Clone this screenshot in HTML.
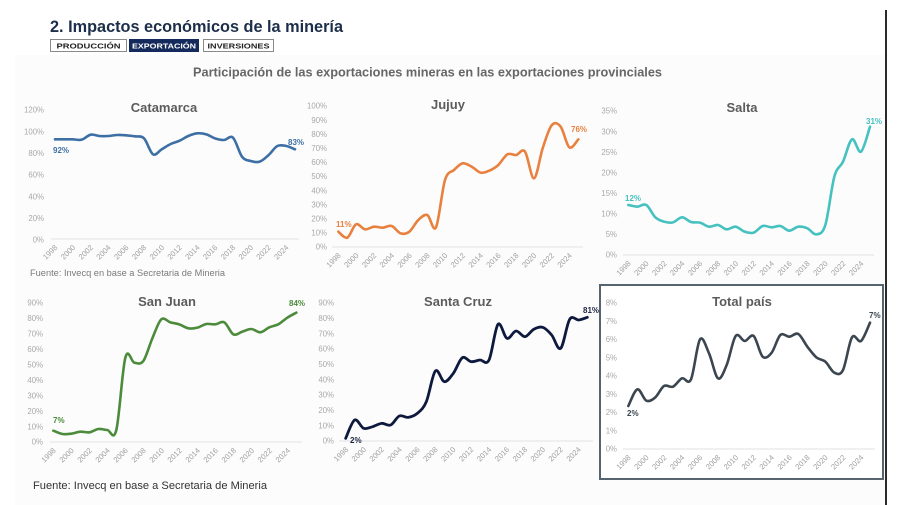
<!DOCTYPE html>
<html><head><meta charset="utf-8"><style>
html,body{margin:0;padding:0;background:#fff;}
svg{display:block;font-family:"Liberation Sans",sans-serif;}
.yl{font-size:7.8px;fill:#a8a8a8;text-anchor:end;}
.xl{font-size:7.6px;fill:#a0a0a0;text-anchor:end;}
.ct{font-size:13px;font-weight:bold;fill:#5c5c5c;text-anchor:middle;}
.dl{font-size:8px;font-weight:bold;}
.ax{stroke:#e2e2e2;stroke-width:1;}
</style></head><body>
<svg width="900" height="505" viewBox="0 0 900 505" xmlns="http://www.w3.org/2000/svg">
<rect x="0" y="0" width="900" height="505" fill="#fff"/>
<rect x="15" y="55" width="871" height="450" fill="#fcfcfc"/>
<line x1="886" y1="10" x2="886" y2="505" stroke="#2a2a2a" stroke-width="2"/>

<!-- Header -->
<text x="50" y="32" font-size="16.5" font-weight="bold" fill="#1c2e4a" textLength="293" lengthAdjust="spacingAndGlyphs">2. Impactos económicos de la minería</text>
<rect x="50.5" y="39.5" width="76" height="12" fill="#fff" stroke="#8a8a8a" stroke-width="1"/>
<text x="88.5" y="48.5" font-size="7.5" font-weight="bold" fill="#222" text-anchor="middle" textLength="64" lengthAdjust="spacingAndGlyphs">PRODUCCIÓN</text>
<rect x="129" y="39" width="70" height="13" fill="#142a5c"/>
<text x="164" y="48.5" font-size="7.5" font-weight="bold" fill="#fff" text-anchor="middle" textLength="64" lengthAdjust="spacingAndGlyphs">EXPORTACIÓN</text>
<rect x="203.5" y="39.5" width="70" height="12" fill="#fff" stroke="#8a8a8a" stroke-width="1"/>
<text x="238.5" y="48.5" font-size="7.5" font-weight="bold" fill="#222" text-anchor="middle" textLength="62" lengthAdjust="spacingAndGlyphs">INVERSIONES</text>
<text x="193" y="76.5" font-size="12.5" font-weight="bold" fill="#666" textLength="469" lengthAdjust="spacingAndGlyphs">Participación de las exportaciones mineras en las exportaciones provinciales</text>

<!-- Total pais box -->
<rect x="600" y="285" width="283" height="194" fill="#fff" stroke="#566470" stroke-width="2"/>

<!-- ===== Catamarca ===== -->
<text class="ct" x="164" y="112">Catamarca</text>
<line class="ax" x1="51" y1="239" x2="299" y2="239"/>
<g class="yl">
<text x="44" y="112.7">120%</text><text x="44" y="134.4">100%</text><text x="44" y="156">80%</text><text x="44" y="177.7">60%</text><text x="44" y="199.4">40%</text><text x="44" y="221">20%</text><text x="44" y="242.7">0%</text>
</g>
<g class="xl">
<text transform="translate(58,248) rotate(-45)">1998</text><text transform="translate(75.8,248) rotate(-45)">2000</text><text transform="translate(93.6,248) rotate(-45)">2002</text><text transform="translate(111.3,248) rotate(-45)">2004</text><text transform="translate(129.1,248) rotate(-45)">2006</text><text transform="translate(146.9,248) rotate(-45)">2008</text><text transform="translate(164.7,248) rotate(-45)">2010</text><text transform="translate(182.4,248) rotate(-45)">2012</text><text transform="translate(200.2,248) rotate(-45)">2014</text><text transform="translate(218,248) rotate(-45)">2016</text><text transform="translate(235.8,248) rotate(-45)">2018</text><text transform="translate(253.6,248) rotate(-45)">2020</text><text transform="translate(271.3,248) rotate(-45)">2022</text><text transform="translate(289.1,248) rotate(-45)">2024</text>
</g>
<g transform="translate(20,90) scale(0.333333)">
<polyline class="s" fill="none" stroke="#3d6fa5" stroke-width="2.6" stroke-linejoin="round" stroke-linecap="round" vector-effect="non-scaling-stroke" points="105,148 132,148 158,148 185,149 212,134 238,138 265,138 292,135 318,136 345,139 372,145 399,193 425,178 452,162 479,152 505,138 532,130 559,133 585,145 612,150 639,143 666,200 692,213 719,215 746,195 772,168 799,168 825,178"/>
</g>
<text class="dl" x="53" y="153" fill="#3d6fa5">92%</text>
<text class="dl" x="288" y="145" fill="#3d6fa5">83%</text>
<text x="30" y="276" font-size="9" fill="#7a7a7a" textLength="195" lengthAdjust="spacingAndGlyphs">Fuente: Invecq en base a Secretaria de Mineria</text>

<!-- ===== Jujuy ===== -->
<text class="ct" x="448" y="109">Jujuy</text>
<line class="ax" x1="332" y1="247" x2="583" y2="247"/>
<g class="yl">
<text x="327" y="108.7">100%</text><text x="327" y="122.8">90%</text><text x="327" y="136.9">80%</text><text x="327" y="151">70%</text><text x="327" y="165.1">60%</text><text x="327" y="179.2">50%</text><text x="327" y="193.3">40%</text><text x="327" y="207.4">30%</text><text x="327" y="221.5">20%</text><text x="327" y="235.6">10%</text><text x="327" y="249.7">0%</text>
</g>
<g class="xl">
<text transform="translate(341.3,256) rotate(-45)">1998</text><text transform="translate(359.1,256) rotate(-45)">2000</text><text transform="translate(376.9,256) rotate(-45)">2002</text><text transform="translate(394.6,256) rotate(-45)">2004</text><text transform="translate(412.4,256) rotate(-45)">2006</text><text transform="translate(430.2,256) rotate(-45)">2008</text><text transform="translate(448,256) rotate(-45)">2010</text><text transform="translate(465.7,256) rotate(-45)">2012</text><text transform="translate(483.5,256) rotate(-45)">2014</text><text transform="translate(501.3,256) rotate(-45)">2016</text><text transform="translate(519.1,256) rotate(-45)">2018</text><text transform="translate(536.9,256) rotate(-45)">2020</text><text transform="translate(554.6,256) rotate(-45)">2022</text><text transform="translate(572.4,256) rotate(-45)">2024</text>
</g>
<g transform="translate(300,90) scale(0.333333)">
<polyline class="s" fill="none" stroke="#e8813f" stroke-width="2.6" stroke-linejoin="round" stroke-linecap="round" vector-effect="non-scaling-stroke" points="115,425 142,443 168,403 195,418 222,410 248,413 275,408 302,430 328,425 355,390 382,375 408,412 435,270 462,240 488,220 515,230 542,248 568,242 595,225 622,193 648,195 675,185 702,265 728,175 755,106 782,110 808,172 835,148"/>
</g>
<text class="dl" x="336" y="227" fill="#e8813f">11%</text>
<text class="dl" x="571" y="132" fill="#e8813f">76%</text>

<!-- ===== Salta ===== -->
<text class="ct" x="742" y="112">Salta</text>
<line class="ax" x1="623" y1="255" x2="874" y2="255"/>
<g class="yl">
<text x="617" y="113.7">35%</text><text x="617" y="134.3">30%</text><text x="617" y="154.8">25%</text><text x="617" y="175.4">20%</text><text x="617" y="196">15%</text><text x="617" y="216.6">10%</text><text x="617" y="237.1">5%</text><text x="617" y="257.7">0%</text>
</g>
<g class="xl">
<text transform="translate(631.3,264) rotate(-45)">1998</text><text transform="translate(649.2,264) rotate(-45)">2000</text><text transform="translate(667.1,264) rotate(-45)">2002</text><text transform="translate(685,264) rotate(-45)">2004</text><text transform="translate(702.9,264) rotate(-45)">2006</text><text transform="translate(720.8,264) rotate(-45)">2008</text><text transform="translate(738.7,264) rotate(-45)">2010</text><text transform="translate(756.6,264) rotate(-45)">2012</text><text transform="translate(774.5,264) rotate(-45)">2014</text><text transform="translate(792.4,264) rotate(-45)">2016</text><text transform="translate(810.3,264) rotate(-45)">2018</text><text transform="translate(828.2,264) rotate(-45)">2020</text><text transform="translate(846.1,264) rotate(-45)">2022</text><text transform="translate(864,264) rotate(-45)">2024</text>
</g>
<g transform="translate(590,90) scale(0.333333)">
<polyline class="s" fill="none" stroke="#45c1c0" stroke-width="2.6" stroke-linejoin="round" stroke-linecap="round" vector-effect="non-scaling-stroke" points="115,345 142,350 169,345 196,382 222,395 249,397 276,382 303,396 330,398 357,410 384,405 410,418 437,410 464,425 491,428 518,408 545,412 571,408 598,422 625,410 652,415 679,433 706,405 733,260 759,215 786,148 813,185 840,110"/>
</g>
<text class="dl" x="625" y="201" fill="#45c1c0">12%</text>
<text class="dl" x="866" y="124" fill="#45c1c0">31%</text>

<!-- ===== San Juan ===== -->
<text class="ct" x="167" y="306">San Juan</text>
<line class="ax" x1="50" y1="442" x2="302" y2="442"/>
<g class="yl">
<text x="43" y="305.7">90%</text><text x="43" y="321.1">80%</text><text x="43" y="336.6">70%</text><text x="43" y="352">60%</text><text x="43" y="367.5">50%</text><text x="43" y="382.9">40%</text><text x="43" y="398.4">30%</text><text x="43" y="413.8">20%</text><text x="43" y="429.3">10%</text><text x="43" y="444.7">0%</text>
</g>
<g class="xl">
<text transform="translate(56.3,451) rotate(-45)">1998</text><text transform="translate(74.4,451) rotate(-45)">2000</text><text transform="translate(92.4,451) rotate(-45)">2002</text><text transform="translate(110.4,451) rotate(-45)">2004</text><text transform="translate(128.4,451) rotate(-45)">2006</text><text transform="translate(146.4,451) rotate(-45)">2008</text><text transform="translate(164.5,451) rotate(-45)">2010</text><text transform="translate(182.5,451) rotate(-45)">2012</text><text transform="translate(200.5,451) rotate(-45)">2014</text><text transform="translate(218.5,451) rotate(-45)">2016</text><text transform="translate(236.6,451) rotate(-45)">2018</text><text transform="translate(254.6,451) rotate(-45)">2020</text><text transform="translate(272.6,451) rotate(-45)">2022</text><text transform="translate(290.6,451) rotate(-45)">2024</text>
</g>
<g transform="translate(20,285) scale(0.333333)">
<polyline class="s" fill="none" stroke="#4b8b3b" stroke-width="2.6" stroke-linejoin="round" stroke-linecap="round" vector-effect="non-scaling-stroke" points="100,437 127,447 154,446 181,440 208,442 235,432 262,435 289,435 316,218 343,233 370,228 397,160 424,103 451,112 478,118 505,130 532,128 559,117 586,118 613,112 640,148 667,140 694,132 721,142 748,127 775,118 802,98 829,83"/>
</g>
<text class="dl" x="53" y="423" fill="#4b8b3b">7%</text>
<text class="dl" x="289" y="306" fill="#4b8b3b">84%</text>
<text x="33" y="489" font-size="11" fill="#333" textLength="234" lengthAdjust="spacingAndGlyphs">Fuente: Invecq en base a Secretaria de Mineria</text>

<!-- ===== Santa Cruz ===== -->
<text class="ct" x="458" y="306">Santa Cruz</text>
<line class="ax" x1="339" y1="441" x2="593" y2="441"/>
<g class="yl">
<text x="334" y="305.7">90%</text><text x="334" y="321">80%</text><text x="334" y="336.4">70%</text><text x="334" y="351.7">60%</text><text x="334" y="367">50%</text><text x="334" y="382.4">40%</text><text x="334" y="397.7">30%</text><text x="334" y="413">20%</text><text x="334" y="428.4">10%</text><text x="334" y="443.7">0%</text>
</g>
<g class="xl">
<text transform="translate(348.7,450) rotate(-45)">1998</text><text transform="translate(366.6,450) rotate(-45)">2000</text><text transform="translate(384.5,450) rotate(-45)">2002</text><text transform="translate(402.4,450) rotate(-45)">2004</text><text transform="translate(420.3,450) rotate(-45)">2006</text><text transform="translate(438.2,450) rotate(-45)">2008</text><text transform="translate(456.1,450) rotate(-45)">2010</text><text transform="translate(474,450) rotate(-45)">2012</text><text transform="translate(491.9,450) rotate(-45)">2014</text><text transform="translate(509.8,450) rotate(-45)">2016</text><text transform="translate(527.7,450) rotate(-45)">2018</text><text transform="translate(545.6,450) rotate(-45)">2020</text><text transform="translate(563.5,450) rotate(-45)">2022</text><text transform="translate(581.4,450) rotate(-45)">2024</text>
</g>
<g transform="translate(300,285) scale(0.333333)">
<polyline class="s" fill="none" stroke="#0e1a3d" stroke-width="2.8" stroke-linejoin="round" stroke-linecap="round" vector-effect="non-scaling-stroke" points="137,460 164,405 191,430 218,425 245,415 272,420 298,393 325,397 352,385 379,350 406,258 433,290 460,265 487,218 513,230 540,225 567,225 594,118 621,160 648,138 675,155 701,133 728,127 755,150 782,190 809,103 836,105 862,97"/>
</g>
<text class="dl" x="350" y="443" fill="#1a2440">2%</text>
<text class="dl" x="583" y="313" fill="#1a2440">81%</text>

<!-- ===== Total pais ===== -->
<text class="ct" x="742" y="306">Total país</text>
<line class="ax" x1="623" y1="449" x2="875" y2="449"/>
<g class="yl">
<text x="617" y="305.7">8%</text><text x="617" y="324">7%</text><text x="617" y="342.2">6%</text><text x="617" y="360.5">5%</text><text x="617" y="378.7">4%</text><text x="617" y="397">3%</text><text x="617" y="415.2">2%</text><text x="617" y="433.5">1%</text><text x="617" y="451.7">0%</text>
</g>
<g class="xl">
<text transform="translate(631.3,458) rotate(-45)">1998</text><text transform="translate(649.2,458) rotate(-45)">2000</text><text transform="translate(667.1,458) rotate(-45)">2002</text><text transform="translate(685,458) rotate(-45)">2004</text><text transform="translate(702.9,458) rotate(-45)">2006</text><text transform="translate(720.8,458) rotate(-45)">2008</text><text transform="translate(738.7,458) rotate(-45)">2010</text><text transform="translate(756.6,458) rotate(-45)">2012</text><text transform="translate(774.5,458) rotate(-45)">2014</text><text transform="translate(792.4,458) rotate(-45)">2016</text><text transform="translate(810.3,458) rotate(-45)">2018</text><text transform="translate(828.2,458) rotate(-45)">2020</text><text transform="translate(846.1,458) rotate(-45)">2022</text><text transform="translate(864,458) rotate(-45)">2024</text>
</g>
<g transform="translate(590,280) scale(0.333333)">
<polyline class="s" fill="none" stroke="#3b4650" stroke-width="2.6" stroke-linejoin="round" stroke-linecap="round" vector-effect="non-scaling-stroke" points="115,378 142,328 169,362 196,352 222,318 249,320 276,295 303,298 330,178 357,220 384,295 410,255 437,168 464,183 491,168 518,230 545,218 571,165 598,170 625,162 652,200 679,232 706,245 733,278 759,270 786,172 813,183 840,128"/>
</g>
<text class="dl" x="627" y="416" fill="#3b4650">2%</text>
<text class="dl" x="869" y="318" fill="#3b4650">7%</text>
</svg>
<script>
(function(){
  var ns="http://www.w3.org/2000/svg";
  var pls=document.querySelectorAll("polyline.s");
  for(var k=0;k<pls.length;k++){
    var pl=pls[k];
    var raw=pl.getAttribute("points").trim().split(/\s+/).map(function(s){var a=s.split(",");return [parseFloat(a[0]),parseFloat(a[1])];});
    var d="M"+raw[0][0]+","+raw[0][1];
    for(var i=0;i<raw.length-1;i++){
      var p0=raw[i>0?i-1:i],p1=raw[i],p2=raw[i+1],p3=raw[i+2<raw.length?i+2:i+1];
      var c1x=p1[0]+(p2[0]-p0[0])/6,c1y=p1[1]+(p2[1]-p0[1])/6;
      var c2x=p2[0]-(p3[0]-p1[0])/6,c2y=p2[1]-(p3[1]-p1[1])/6;
      d+=" C"+c1x.toFixed(1)+","+c1y.toFixed(1)+" "+c2x.toFixed(1)+","+c2y.toFixed(1)+" "+p2[0]+","+p2[1];
    }
    var path=document.createElementNS(ns,"path");
    path.setAttribute("d",d);
    ["fill","stroke","stroke-width","stroke-linejoin","stroke-linecap","vector-effect"].forEach(function(a){path.setAttribute(a,pl.getAttribute(a));});
    pl.parentNode.replaceChild(path,pl);
  }
})();
</script>
</body></html>
